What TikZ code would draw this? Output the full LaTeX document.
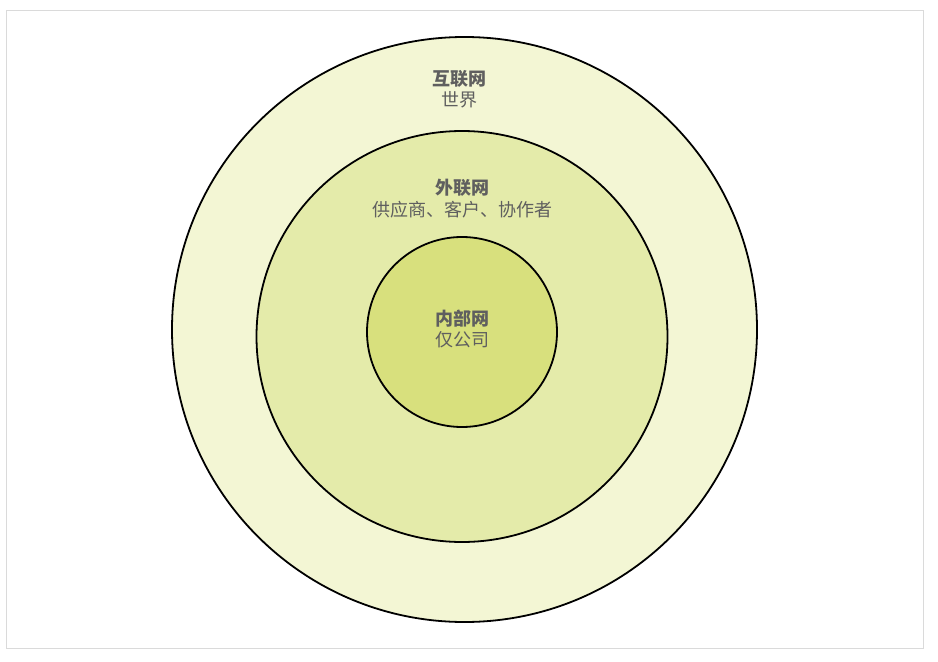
\documentclass[tikz,border=0pt]{standalone}
\usepackage{fontspec}
\newfontfamily\cjk{Noto Sans CJK SC}
\definecolor{netouter}{RGB}{243,246,212}
\definecolor{netmiddle}{RGB}{228,235,170}
\definecolor{netinner}{RGB}{216,224,125}
\definecolor{nettext}{RGB}{95,95,95}
\definecolor{netframe}{RGB}{218,218,218}
\tikzset{
  ring/.style={circle, draw=black, line width=1.8bp, inner sep=0pt},
  title/.style={font=\cjk\bfseries\fontsize{18bp}{20bp}\selectfont, text=nettext, inner sep=0pt},
  sub/.style={font=\cjk\fontsize{18bp}{20bp}\selectfont, text=nettext, inner sep=0pt}
}
\begin{document}
\begin{tikzpicture}[x=1bp,y=-1bp]
\useasboundingbox (0,0) rectangle (938,662);
\draw[netframe, line width=1bp] (6,11) rectangle (923,648);
% rings
\node[ring, fill=netouter, minimum size=585bp] (internet) at (464.5,329.5) {};
\node[ring, fill=netmiddle, minimum size=411bp] (extranet) at (462,336.5) {};
\node[ring, fill=netinner, minimum size=190bp] (intranet) at (462,332) {};
% labels
\node[title] (internetname) at (459,79) {互联网};
\node[sub] (internetsub) at (459,100) {世界};
\node[title] (extranetname) at (462,188) {外联网};
\node[sub] (extranetsub) at (462,210) {供应商、客户、协作者};
\node[title] (intranetname) at (462,319) {内部网};
\node[sub] (intranetsub) at (462,340) {仅公司};
\end{tikzpicture}
\end{document}
